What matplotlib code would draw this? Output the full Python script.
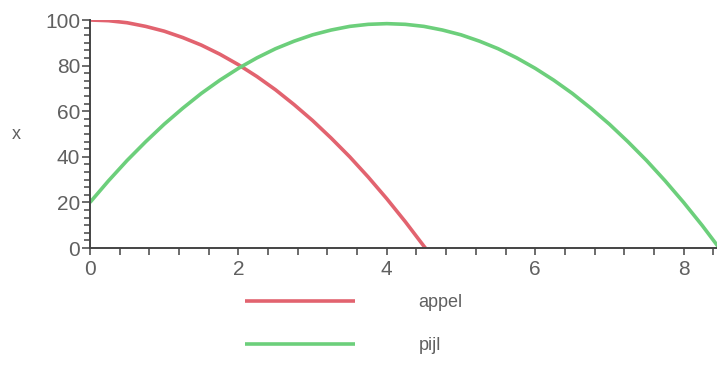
import matplotlib.pyplot as plt
from matplotlib.ticker import MultipleLocator

# waarden
t_appel = [0, 0.25, 0.5, 0.75, 1, 1.25, 1.5, 1.75, 2, 2.25, 2.5, 2.75,
           3, 3.25, 3.5, 3.75, 4, 4.25, 4.5, 4.52]
x_appel = [100, 99.7, 98.8, 97.2, 95.1, 92.3, 89.0, 85.0, 80.4, 75.2, 69.4, 62.9,
           55.9, 48.2, 40.0, 31.1, 21.6, 11.5, 0.8, 0]

t_pijl = [0, 0.25, 0.5, 0.75, 1, 1.25, 1.5, 1.75, 2, 2.25, 2.5, 2.75, 3, 3.25,
          3.5, 3.75, 4, 4.25, 4.5, 4.75, 5, 5.25, 5.5, 5.75, 6, 6.25, 6.5,
          6.75, 7, 7.25, 7.5, 7.75, 8, 8.25, 8.48]
x_pijl = [20, 29.5, 38.4, 46.6, 54.3, 61.3, 67.8, 73.6, 78.8, 83.4, 87.4, 90.7,
          93.5, 95.6, 97.2, 98.1, 98.4, 98.1, 97.2, 95.6, 93.5, 90.7, 87.4,
          83.4, 78.8, 73.6, 67.8, 61.3, 54.3, 46.6, 38.4, 29.5, 20, 9.9, 0]

labels = ['appel', 'pijl']
kleuren = ['#e2636f', '#6ccf7b']

W, H = 717, 365
fig = plt.figure(figsize=(W / 100, H / 100), dpi=100)
ax = fig.add_axes([90 / W, 1 - 248 / H, (717 - 90) / W, (248 - 20) / H])

ax.plot(t_appel, x_appel, color=kleuren[0], lw=2.6, label=labels[0],
        solid_capstyle='butt')
ax.plot(t_pijl, x_pijl, color=kleuren[1], lw=2.6, label=labels[1],
        solid_capstyle='butt')

ax.set_xlim(0, 8.45)
ax.set_ylim(0, 100)
ax.xaxis.set_major_locator(MultipleLocator(2))
ax.xaxis.set_minor_locator(MultipleLocator(0.4))
ax.yaxis.set_major_locator(MultipleLocator(20))
ax.yaxis.set_minor_locator(MultipleLocator(20 / 6))

for s in ['top', 'right']:
    ax.spines[s].set_visible(False)
for s in ['left', 'bottom']:
    ax.spines[s].set_color('#444444')
    ax.spines[s].set_linewidth(1.4)

tekst = '#606060'
fnt = ['Liberation Sans', 'DejaVu Sans']
ax.tick_params(which='both', direction='out', color='#444444', width=1.1,
               labelcolor=tekst, labelsize=15)
ax.tick_params(which='major', length=6)
ax.tick_params(which='minor', length=4.5)
ax.tick_params(axis='x', which='both', length=5)
ax.tick_params(axis='y', pad=1)
for lab in ax.get_xticklabels() + ax.get_yticklabels():
    lab.set_family(fnt)

fig.text(16 / W, 1 - 134 / H, 'x', color=tekst, fontsize=13, family=fnt,
         ha='center', va='center')

fig.legend(loc='upper left', bbox_to_anchor=(245 / W, 1 - 294 / H),
           frameon=False, handlelength=6.1, handletextpad=3.5,
           labelspacing=1.45, borderpad=0, borderaxespad=0,
           prop={'family': fnt, 'size': 13}, labelcolor=tekst)

fig.savefig('out.png', dpi=100)
